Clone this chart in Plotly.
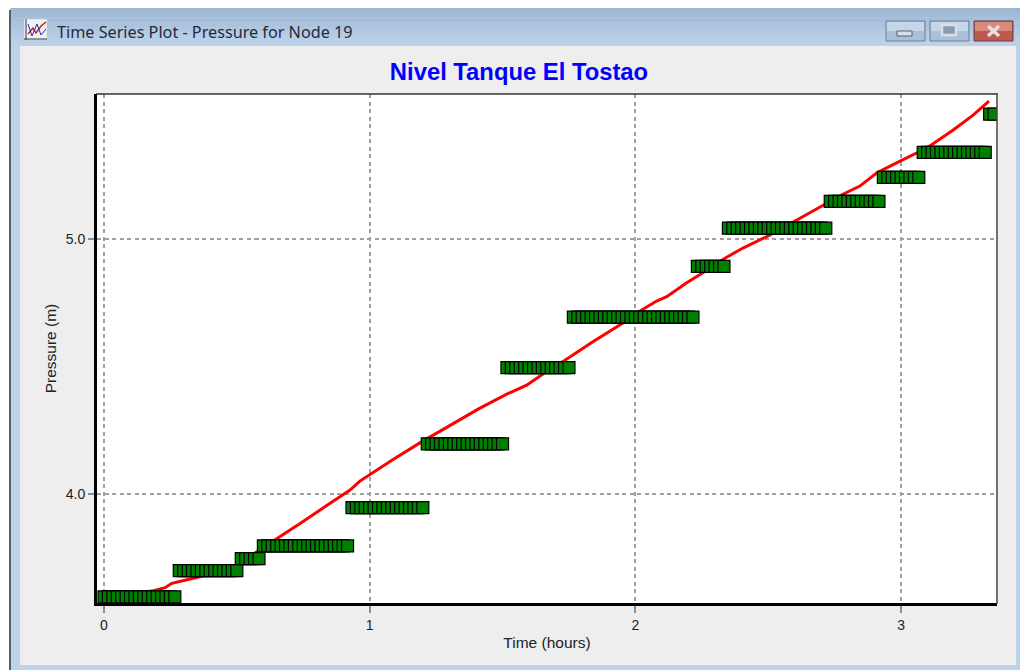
import plotly.graph_objects as go

W, H = 1020, 670

# Computed pressure curve (red line)
sim_hours = [0, 0.186, 0.230, 0.255, 0.349, 0.497, 0.575, 0.655, 0.738, 0.851, 0.926, 0.963, 1.001, 1.088, 1.189,
             1.238, 1.314, 1.415, 1.516, 1.591, 1.652, 1.735, 1.840, 1.904, 1.953, 2.024, 2.080, 2.118,
             2.193, 2.254, 2.337, 2.405, 2.507, 2.601, 2.695, 2.781, 2.845, 2.909, 2.996, 3.097, 3.195,
             3.271, 3.331]
sim_pressure = [3.596, 3.621, 3.633, 3.650, 3.673, 3.718, 3.774, 3.827, 3.885, 3.964, 4.016, 4.051, 4.077, 4.136, 4.201,
                4.231, 4.278, 4.337, 4.392, 4.427, 4.471, 4.525, 4.597, 4.639, 4.671, 4.722, 4.757, 4.774,
                4.829, 4.868, 4.925, 4.965, 5.016, 5.071, 5.127, 5.176, 5.208, 5.260, 5.306, 5.357, 5.427,
                5.486, 5.541]

# Observed readings, one per minute (green squares)
obs_minutes = [0, 1, 2, 3, 4, 5, 6, 7, 8, 9, 10, 11, 12, 13, 14, 15, 16,
               17, 18, 19, 20, 21, 22, 23, 24, 25, 26, 27, 28, 29, 30,
               31, 32, 33, 34, 35,
               36, 37, 38, 39, 40, 41, 42, 43, 44, 45, 46, 47, 48, 49, 50, 51, 52, 53, 54, 55,
               56, 57, 58, 59, 60, 61, 62, 63, 64, 65, 66, 67, 68, 69, 70, 71, 72,
               73, 74, 75, 76, 77, 78, 79, 80, 81, 82, 83, 84, 85, 86, 87, 88, 89, 90,
               91, 92, 93, 94, 95, 96, 97, 98, 99, 100, 101, 102, 103, 104, 105,
               106, 107, 108, 109, 110, 111, 112, 113, 114, 115, 116, 117, 118, 119, 120, 121, 122, 123, 124,
               125, 126, 127, 128, 129, 130, 131, 132, 133,
               134, 135, 136, 137, 138, 139, 140,
               141, 142, 143, 144, 145, 146, 147, 148, 149, 150, 151, 152, 153, 154, 155, 156, 157, 158, 159,
               160, 161, 162, 163,
               164, 165, 166, 167, 168, 169, 170, 171, 172, 173, 174, 175,
               176, 177, 178, 179, 180, 181, 182, 183, 184,
               185, 186, 187, 188, 189, 190, 191, 192, 193, 194, 195, 196, 197, 198, 199,
               200, 201]
obs_pressure = [3.597] * 17 + [3.7] * 14 + [3.747] * 5 + [3.797] * 20 + [3.947] * 17 + [4.197] * 18 + [4.496] * 15 + \
               [4.694] * 28 + [4.893] * 7 + [5.043] * 23 + [5.148] * 12 + [5.242] * 9 + [5.34] * 15 + [5.49] * 2

x_ticks = [0, 1, 2, 3]
y_ticks = [4.0, 5.0]
y_tick_labels = ["4.0", "5.0"]

obs_hours = [m / 60 for m in obs_minutes]


def px_rect(x0, y0, x1, y1, fill, line=None, lw=0, layer="below"):
    return dict(type="rect", xref="paper", yref="paper", layer=layer,
                x0=x0 / W, x1=x1 / W, y0=1 - y0 / H, y1=1 - y1 / H,
                fillcolor=fill, line=dict(color=line or fill, width=lw))


def px_line(x0, y0, x1, y1, color, lw=1, layer="below"):
    return dict(type="line", xref="paper", yref="paper", layer=layer,
                x0=x0 / W, x1=x1 / W, y0=1 - y0 / H, y1=1 - y1 / H,
                line=dict(color=color, width=lw))


shapes = []
# window frame
shapes.append(px_rect(10, 8, 1020, 670, "#bcd3ea"))
shapes.append(px_rect(9, 10, 11, 670, "#555f68"))
# title bar gradient bands
bands = ["#9cb6d3", "#a1bad6", "#a6bed9", "#abc3dd", "#b0c7e0", "#b5cbe4", "#b9cfe7", "#bcd2ea"]
for i, c in enumerate(bands):
    shapes.append(px_rect(11, 8 + i * 4.75, 1020, 8 + (i + 1) * 4.75, c))
# client area
shapes.append(px_rect(20, 46, 1016, 665, "#eeeeee"))
# plot area
shapes.append(px_rect(97, 94, 997, 603, "#ffffff"))

# minimize / maximize / close buttons
shapes.append(px_rect(886, 21, 925, 41, "#a9c0da", "#6d7f95", 1))
shapes.append(px_rect(887, 22, 924, 31, "#c5d6e8"))
shapes.append(px_rect(897, 31, 912, 36, "#d9dfe6", "#55606e", 1))
shapes.append(px_rect(930, 21, 969, 41, "#a9c0da", "#6d7f95", 1))
shapes.append(px_rect(931, 22, 968, 31, "#c5d6e8"))
shapes.append(px_rect(942, 25, 956, 35, "#8a9bb0", "#d9dfe6", 2.5))
shapes.append(px_rect(974, 21, 1013, 41, "#bd5a4e", "#6b3a48", 1))
shapes.append(px_rect(975, 22, 1012, 31, "#d98a7b"))
shapes.append(px_line(988, 26, 999, 36, "#e6e0dc", 3.5))
shapes.append(px_line(999, 26, 988, 36, "#e6e0dc", 3.5))

# title-bar icon
shapes.append(px_rect(24, 19, 47, 40, "#eef1f5", "#c0c4c8", 0.5))
shapes.append(px_line(26, 19, 26, 40, "#333333", 1))
shapes.append(px_line(24, 39, 47, 39, "#333333", 1))
shapes.append(dict(type="path", xref="paper", yref="paper", layer="below",
                   path="M %f %f L %f %f L %f %f L %f %f L %f %f" % (
                       28 / W, 1 - 34 / H, 33 / W, 1 - 28 / H, 36 / W, 1 - 33 / H, 41 / W, 1 - 26 / H, 46 / W, 1 - 22 / H),
                   line=dict(color="#e01818", width=1.5)))
shapes.append(dict(type="path", xref="paper", yref="paper", layer="below",
                   path="M %f %f L %f %f L %f %f L %f %f L %f %f" % (
                       28 / W, 1 - 24 / H, 32 / W, 1 - 36 / H, 37 / W, 1 - 24 / H, 41 / W, 1 - 35 / H, 46 / W, 1 - 29 / H),
                   line=dict(color="#2030b0", width=1)))

# thin top/right plot border
shapes.append(px_line(96, 94, 998, 94, "#333333", 1.5, "above"))
shapes.append(px_line(997, 94, 997, 604, "#444444", 1.5, "above"))

fig = go.Figure()
fig.add_trace(go.Scatter(x=sim_hours, y=sim_pressure, mode="lines", showlegend=False,
                         line=dict(color="#ff0000", width=3)))
fig.add_trace(go.Scatter(x=obs_hours, y=obs_pressure, mode="markers", showlegend=False,
                         marker=dict(symbol="square", size=12, color="#008000",
                                     line=dict(color="#000000", width=1.2))))

tick_font = dict(family="Liberation Sans, Arial, sans-serif", size=14, color="#222222")
title_font = dict(family="Liberation Sans, Arial, sans-serif", size=15.5, color="#222222")
fig.update_layout(
    width=W, height=H,
    margin=dict(l=0, r=0, t=0, b=0),
    paper_bgcolor="#ffffff",
    plot_bgcolor="rgba(0,0,0,0)",
    showlegend=False,
    shapes=shapes,
    title=dict(text="<b>Nivel Tanque El Tostao</b>", x=519 / W, xanchor="center",
               y=1 - 72 / H, yanchor="middle",
               font=dict(family="Liberation Sans, Arial, sans-serif", size=23.8, color="#0000ff")),
    annotations=[dict(text="Time Series Plot - Pressure for Node 19", xref="paper", yref="paper",
                      x=55 / W, y=1 - 32 / H, xanchor="left", yanchor="middle", showarrow=False,
                      font=dict(family="Noto Sans, Open Sans, sans-serif", size=16.2, color="#1d2c3c"))],
    xaxis=dict(domain=[97 / W, 997 / W], range=[-0.0263, 3.361], tickmode="array", tickvals=x_ticks,
               ticktext=[str(t) for t in x_ticks], showgrid=True, gridcolor="#a0a0a0", griddash="4px,3.5px",
               gridwidth=1.5, zeroline=False, showline=True, linecolor="#000000", linewidth=3,
               ticks="outside", ticklen=7, tickcolor="#8c8c8c", tickwidth=1.5, tickfont=tick_font,
               title=dict(text="Time (hours)", font=title_font, standoff=6)),
    yaxis=dict(domain=[1 - 603 / H, 1 - 94 / H], range=[3.573, 5.569], tickmode="array", tickvals=y_ticks,
               ticktext=y_tick_labels, showgrid=True, gridcolor="#a0a0a0", griddash="4px,3.5px",
               gridwidth=1.5, zeroline=False, showline=True, linecolor="#000000", linewidth=3,
               ticks="outside", ticklen=6, tickcolor="#8c8c8c", tickwidth=1.5, tickfont=tick_font,
               title=dict(text="Pressure (m)", font=title_font, standoff=6)),
)

fig.write_html("out.html", config=dict(displayModeBar=False), post_script="document.body.style.margin='0';")
